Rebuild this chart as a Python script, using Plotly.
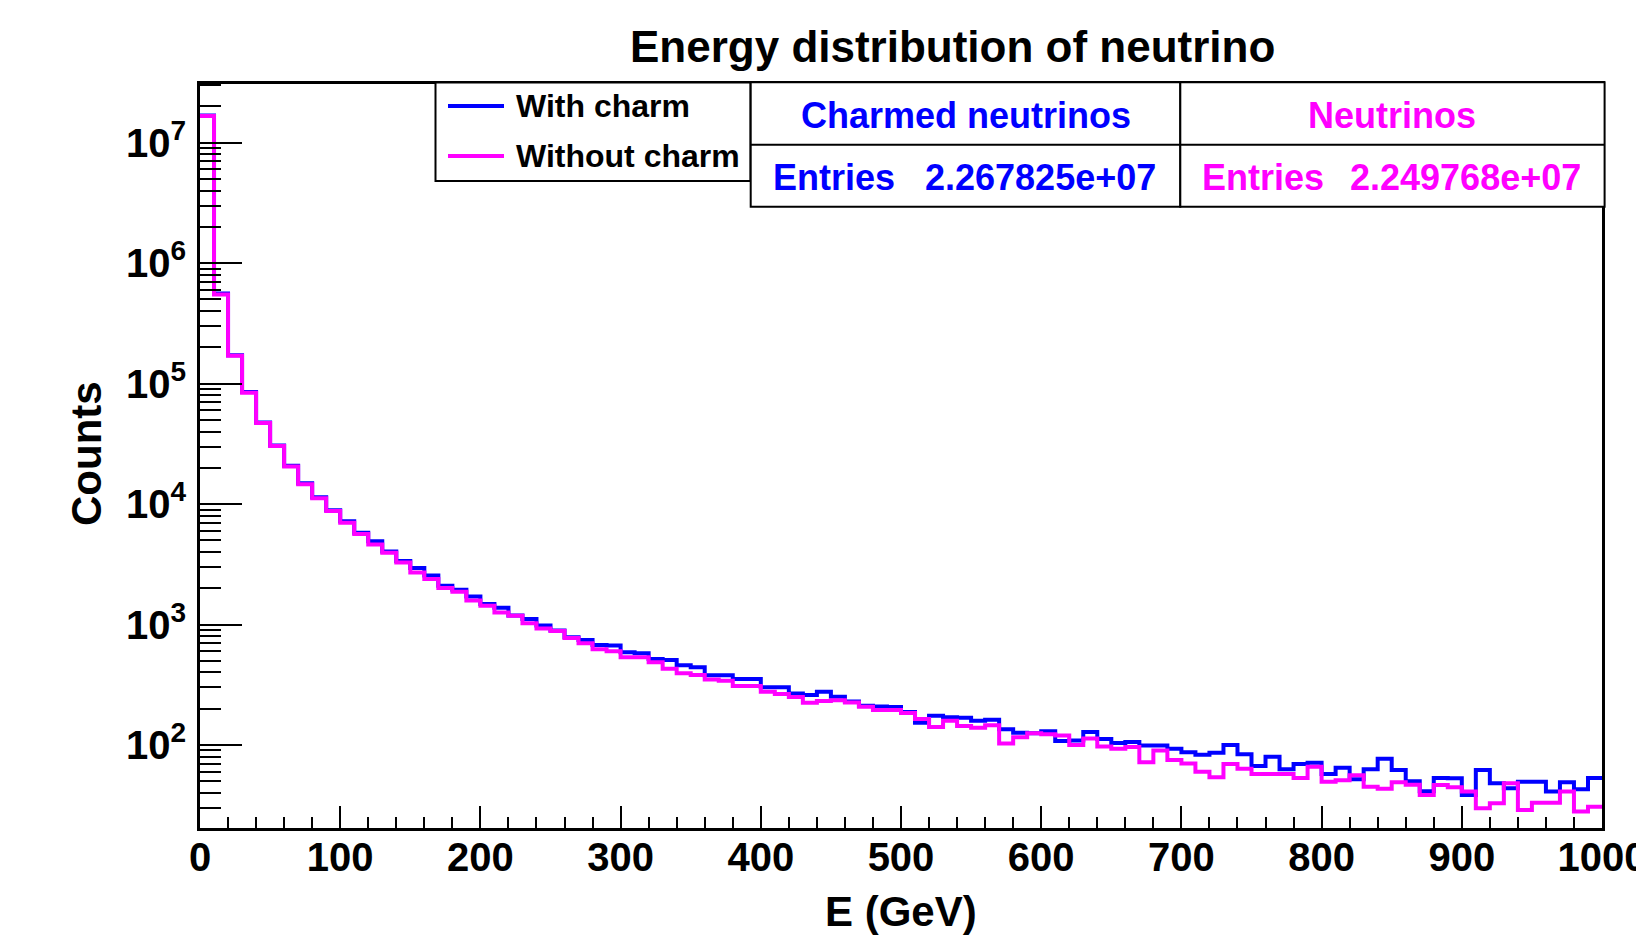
import plotly.graph_objects as go

# ---------------- data ----------------
bin_width_gev = 10
n_bins = 100
bin_edges = [i * bin_width_gev for i in range(n_bins + 1)]

with_charm = [
    1.68e7, 5.6e5, 1.72e5, 8.5e4, 4.75e4, 3.07e4, 2.08e4, 1.49e4, 1.14e4, 8900,
    7210, 5790, 4920, 4040, 3360, 2950, 2550, 2100, 1940, 1710,
    1480, 1380, 1190, 1110, 980, 890, 784, 745, 677, 669,
    589, 578, 518, 508, 459, 442, 379, 380, 353, 353,
    302, 302, 267, 260, 277, 251, 230, 212, 209, 207,
    188, 153, 175, 170, 168, 159, 162, 135, 126, 125,
    130, 108, 109, 128, 112, 104, 106, 99, 99, 93,
    87, 83, 86, 100, 83.6, 67, 80, 63, 69.5, 71.3,
    57.4, 64.8, 52, 62.8, 77, 62, 50, 41.2, 53.2, 52.9,
    38.4, 62, 48, 43.7, 49.6, 49.6, 41, 49, 42.8, 53.2,
]

without_charm = [
    1.67e7, 5.5e5, 1.70e5, 8.4e4, 4.7e4, 3.03e4, 2.05e4, 1.46e4, 1.12e4, 8750,
    7010, 5650, 4610, 3940, 3270, 2700, 2390, 2010, 1870, 1580,
    1430, 1260, 1180, 1026, 925, 885, 774, 699, 624, 600,
    535, 535, 486, 430, 394, 381, 350, 342, 309, 309,
    277, 265, 250, 224, 232, 235, 225, 208, 195, 195,
    184, 164, 141, 159, 144, 139, 146, 103, 116, 125,
    123, 120, 100, 113, 97, 93, 96, 72, 90, 75,
    70, 60, 54, 69.5, 63.6, 57.4, 57.4, 57.4, 53.2, 66,
    49.6, 51, 56, 45, 43.4, 49, 46.8, 38.4, 46.5, 44.5,
    41, 29.8, 32.8, 48, 28.9, 33.2, 33.2, 41, 28, 30.7,
]

series_names = ["With charm", "Without charm"]
stat_titles = ["Charmed neutrinos", "Neutrinos"]
stat_entries = ["2.267825e+07", "2.249768e+07"]

x_major = list(range(0, 1001, 100))
x_minor = [v for v in range(0, 1001, 20) if v % 100 != 0]
y_exponents = [2, 3, 4, 5, 6, 7]
y_major = [10 ** e for e in y_exponents]
y_labels = ["10<sup>%d</sup>" % e for e in y_exponents]
y_minor = [m * 10 ** e for e in range(1, 8) for m in range(2, 10)]

BLUE = "#0000ff"
MAGENTA = "#ff00ff"
FONT = "Liberation Sans"

# ---------------- geometry ----------------
W, H = 1636, 936
ML, MR, MT, MB = 200, 34, 84, 108
PW, PH = W - ML - MR, H - MT - MB


def px(x):
    return (x - ML) / PW


def py(y):
    return (H - MB - y) / PH


fig = go.Figure()

for vals, name, col in [(with_charm, series_names[0], BLUE),
                        (without_charm, series_names[1], MAGENTA)]:
    fig.add_trace(go.Scatter(
        x=bin_edges,
        y=list(vals) + [vals[-1]],
        mode="lines",
        line=dict(color=col, width=4, shape="hv"),
        name=name,
        showlegend=False,
    ))

axis_common = dict(
    showline=True, linewidth=3, linecolor="black", mirror=True,
    ticks="inside", tickcolor="black", tickwidth=2,
    showgrid=False, zeroline=False, ticklabeloverflow="allow",
    automargin=False,
    tickfont=dict(family=FONT, size=40, color="black", weight="bold"),
)

fig.update_xaxes(
    range=[0, 1000], tickmode="array", tickvals=x_major,
    ticktext=[str(v) for v in x_major], ticklen=22,
    minor=dict(tickmode="array", tickvals=x_minor, ticklen=11,
               tickwidth=2, tickcolor="black", ticks="inside"),
    ticklabelstandoff=-8,
    **axis_common,
)
fig.update_yaxes(
    type="log", range=[1.3106, 7.4875], tickmode="array",
    tickvals=y_major, ticktext=y_labels, ticklen=42,
    minor=dict(tickmode="array", tickvals=y_minor, ticklen=21,
               tickwidth=2, tickcolor="black", ticks="inside"),
    ticklabelstandoff=3,
    **axis_common,
)

shapes = []
annots = []

# title and axis titles
annots.append(dict(text="Energy distribution of neutrino", x=px(952), y=py(47),
                   xanchor="center", yanchor="middle",
                   font=dict(family=FONT, size=44, color="black", weight="bold")))
annots.append(dict(text="E (GeV)", x=px(901), y=py(911),
                   xanchor="center", yanchor="middle",
                   font=dict(family=FONT, size=42, color="black", weight="bold")))
annots.append(dict(text="Counts", x=px(86), y=py(454), textangle=-90,
                   xanchor="center", yanchor="middle",
                   font=dict(family=FONT, size=42, color="black", weight="bold")))

# legend box
shapes.append(dict(type="rect", x0=px(435.5), x1=px(750.5), y0=py(82.5), y1=py(181),
                   line=dict(color="black", width=2), fillcolor="white", layer="above"))
for yy, col, name in [(106, BLUE, series_names[0]), (156, MAGENTA, series_names[1])]:
    shapes.append(dict(type="line", x0=px(448), x1=px(504), y0=py(yy), y1=py(yy),
                       line=dict(color=col, width=4), layer="above"))
    annots.append(dict(text=name, x=px(514), y=py(yy), xanchor="left", yanchor="middle",
                       font=dict(family=FONT, size=32, color="black", weight="bold")))

# stats boxes
for x0, x1, col, title, entries in [(750.7, 1180.3, BLUE, stat_titles[0], stat_entries[0]),
                                   (1180.3, 1604.6, MAGENTA, stat_titles[1], stat_entries[1])]:
    shapes.append(dict(type="rect", x0=px(x0), x1=px(x1), y0=py(82.3), y1=py(206.7),
                       line=dict(color="black", width=2), fillcolor="white", layer="above"))
    shapes.append(dict(type="line", x0=px(x0), x1=px(x1), y0=py(144.7), y1=py(144.7),
                       line=dict(color="black", width=2), layer="above"))
    annots.append(dict(text=title, x=px((x0 + x1) / 2), y=py(115.5),
                       xanchor="center", yanchor="middle",
                       font=dict(family=FONT, size=36, color=col, weight="bold")))
    annots.append(dict(text="Entries", x=px(x0 + 20), y=py(177),
                       xanchor="left", yanchor="middle",
                       font=dict(family=FONT, size=36, color=col, weight="bold")))
    annots.append(dict(text=entries, x=px(x1 - 22), y=py(177),
                       xanchor="right", yanchor="middle",
                       font=dict(family=FONT, size=36, color=col, weight="bold")))

for a in annots:
    a.update(xref="paper", yref="paper", showarrow=False)
for s in shapes:
    s.update(xref="paper", yref="paper")

fig.update_layout(
    width=W, height=H,
    margin=dict(l=ML, r=MR, t=MT, b=MB, autoexpand=False),
    paper_bgcolor="white", plot_bgcolor="white",
    shapes=shapes, annotations=annots,
    showlegend=False,
)

fig.write_html("out.html")
